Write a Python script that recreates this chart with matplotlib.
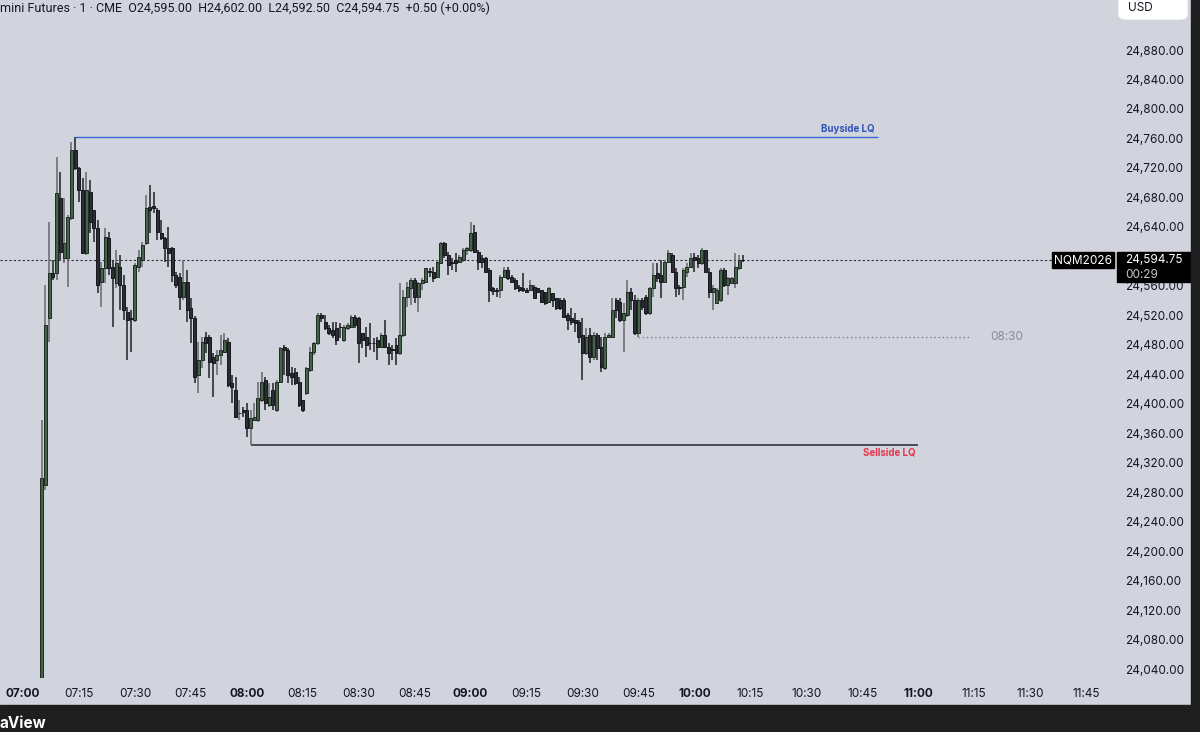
"""NQ 1-minute chart with buyside / sellside liquidity levels."""

import matplotlib
matplotlib.use('Agg')
import matplotlib.pyplot as plt
import numpy as np
from matplotlib.patches import Rectangle, FancyBboxPatch
from matplotlib.transforms import blended_transform_factory
from matplotlib.ticker import FuncFormatter

plt.rcParams['font.family'] = ['Inter', 'DejaVu Sans']

# ---- data ----
first_minute = 5  # first bar at 07:05, one bar per minute

opens = [
    24015, 24290, 24516, 24577, 24577, 24679, 24598, 24598, 24652, 24744,
    24720, 24690, 24605, 24687, 24663, 24638, 24565, 24584, 24625, 24586,
    24564, 24586, 24561, 24524, 24516, 24514, 24586, 24595, 24618, 24667,
    24668, 24663, 24632, 24625, 24611, 24611, 24575, 24572, 24545, 24565,
    24530, 24516, 24439, 24459, 24490, 24490, 24463, 24459, 24466, 24470,
    24484, 24428, 24419, 24387, 24391, 24391, 24367, 24378, 24378, 24405,
    24432, 24398, 24419, 24391, 24430, 24477, 24473, 24442, 24443, 24430,
    24405, 24415, 24446, 24470, 24482, 24520, 24511, 24503, 24500, 24503,
    24504, 24486, 24503, 24504, 24518, 24516, 24496, 24490, 24482, 24482,
    24486, 24477, 24493, 24477, 24473, 24480, 24469, 24493, 24545, 24557,
    24568, 24545, 24564, 24565, 24579, 24579, 24572, 24591, 24618, 24602,
    24592, 24595, 24592, 24595, 24609, 24609, 24633, 24606, 24598, 24598,
    24581, 24557, 24554, 24554, 24572, 24581, 24572, 24568, 24558, 24557,
    24554, 24554, 24558, 24557, 24554, 24551, 24538, 24550, 24543, 24541,
    24541, 24520, 24516, 24514, 24511, 24493, 24469, 24493, 24463, 24493,
    24477, 24448, 24490, 24490, 24541, 24538, 24514, 24520, 24551, 24541,
    24496, 24541, 24545, 24523, 24557, 24577, 24575, 24565, 24592, 24602,
    24579, 24558, 24558, 24579, 24586, 24599, 24598, 24591, 24609, 24579,
    24551, 24537, 24541, 24581, 24561, 24564, 24564, 24584, 24595,
]
highs = [
    24378, 24561, 24647, 24595, 24735, 24714, 24679, 24656, 24755, 24762,
    24721, 24706, 24714, 24704, 24663, 24649, 24592, 24638, 24633, 24595,
    24609, 24602, 24575, 24531, 24527, 24591, 24609, 24619, 24683, 24697,
    24687, 24666, 24649, 24626, 24640, 24613, 24579, 24577, 24595, 24581,
    24543, 24519, 24484, 24490, 24497, 24493, 24469, 24473, 24493, 24496,
    24489, 24439, 24436, 24405, 24395, 24401, 24391, 24401, 24430, 24443,
    24436, 24428, 24428, 24432, 24477, 24480, 24476, 24450, 24448, 24436,
    24405, 24450, 24477, 24484, 24523, 24523, 24520, 24507, 24511, 24511,
    24510, 24507, 24510, 24520, 24520, 24518, 24496, 24504, 24510, 24489,
    24490, 24496, 24514, 24482, 24480, 24489, 24564, 24554, 24565, 24571,
    24571, 24565, 24571, 24584, 24584, 24586, 24595, 24619, 24619, 24606,
    24598, 24605, 24602, 24611, 24613, 24647, 24642, 24609, 24602, 24599,
    24584, 24558, 24557, 24575, 24586, 24586, 24575, 24571, 24561, 24577,
    24557, 24568, 24561, 24557, 24554, 24551, 24558, 24550, 24543, 24543,
    24543, 24523, 24530, 24523, 24514, 24516, 24503, 24503, 24497, 24496,
    24490, 24496, 24496, 24543, 24543, 24543, 24537, 24568, 24557, 24547,
    24543, 24543, 24547, 24558, 24591, 24591, 24595, 24595, 24609, 24605,
    24584, 24561, 24584, 24591, 24605, 24605, 24602, 24611, 24609, 24584,
    24561, 24557, 24584, 24584, 24572, 24572, 24605, 24602, 24602,
]
lows = [
    24005, 24283, 24484, 24568, 24568, 24595, 24591, 24558, 24649, 24717,
    24674, 24605, 24602, 24632, 24619, 24550, 24531, 24564, 24575, 24504,
    24557, 24527, 24514, 24459, 24470, 24511, 24579, 24586, 24615, 24632,
    24659, 24622, 24622, 24592, 24586, 24565, 24557, 24527, 24541, 24511,
    24482, 24428, 24415, 24448, 24469, 24435, 24409, 24439, 24453, 24469,
    24423, 24401, 24381, 24378, 24382, 24355, 24344, 24378, 24375, 24402,
    24391, 24395, 24391, 24389, 24428, 24439, 24428, 24425, 24425, 24395,
    24389, 24412, 24443, 24466, 24480, 24511, 24500, 24493, 24489, 24480,
    24489, 24484, 24500, 24503, 24503, 24455, 24476, 24463, 24473, 24470,
    24459, 24476, 24476, 24453, 24459, 24453, 24466, 24490, 24531, 24534,
    24537, 24524, 24554, 24564, 24572, 24565, 24571, 24591, 24598, 24575,
    24581, 24579, 24591, 24592, 24602, 24606, 24605, 24581, 24584, 24579,
    24538, 24547, 24545, 24543, 24571, 24568, 24564, 24554, 24551, 24551,
    24550, 24554, 24543, 24550, 24537, 24534, 24537, 24531, 24527, 24527,
    24516, 24500, 24507, 24497, 24482, 24432, 24466, 24455, 24459, 24459,
    24443, 24446, 24489, 24489, 24516, 24511, 24470, 24518, 24527, 24493,
    24490, 24527, 24520, 24520, 24545, 24565, 24543, 24564, 24591, 24577,
    24545, 24547, 24541, 24572, 24584, 24579, 24584, 24588, 24577, 24543,
    24527, 24537, 24538, 24558, 24547, 24562, 24557, 24581, 24592.5,
]
closes = [
    24299, 24507, 24577, 24572, 24686, 24606, 24618, 24653, 24744, 24720,
    24690, 24605, 24690, 24647, 24638, 24561, 24584, 24626, 24584, 24571,
    24591, 24561, 24527, 24514, 24515, 24588, 24599, 24615, 24666, 24663,
    24666, 24633, 24625, 24611, 24605, 24575, 24561, 24545, 24565, 24527,
    24516, 24436, 24459, 24484, 24482, 24457, 24455, 24466, 24473, 24486,
    24425, 24423, 24382, 24388, 24389, 24367, 24381, 24382, 24408, 24430,
    24401, 24409, 24398, 24430, 24476, 24473, 24439, 24436, 24428, 24398,
    24391, 24449, 24470, 24482, 24520, 24516, 24503, 24496, 24493, 24486,
    24504, 24504, 24507, 24518, 24507, 24482, 24486, 24480, 24482, 24482,
    24477, 24493, 24477, 24469, 24473, 24469, 24493, 24545, 24558, 24568,
    24545, 24564, 24568, 24584, 24579, 24571, 24592, 24618, 24602, 24588,
    24591, 24591, 24599, 24609, 24611, 24632, 24606, 24592, 24592, 24579,
    24554, 24553, 24553, 24572, 24581, 24571, 24565, 24557, 24554, 24554,
    24551, 24561, 24543, 24551, 24538, 24537, 24557, 24541, 24530, 24530,
    24518, 24514, 24511, 24510, 24490, 24469, 24490, 24463, 24493, 24476,
    24450, 24490, 24493, 24527, 24527, 24514, 24523, 24551, 24541, 24496,
    24541, 24531, 24523, 24557, 24575, 24571, 24565, 24592, 24605, 24579,
    24557, 24557, 24581, 24586, 24598, 24595, 24591, 24609, 24579, 24551,
    24557, 24554, 24581, 24561, 24571, 24571, 24586, 24595, 24594.75,
]

buyside_level = 24762      # high of the 07:14 bar
sellside_level = 24344     # low of the 08:01 bar
level_0830 = 24490         # dotted level from the 09:50 bar
price_ticks = np.arange(24040, 24881, 40)
time_labels = ['07:00', '07:15', '07:30', '07:45', '08:00', '08:15', '08:30',
               '08:45', '09:00', '09:15', '09:30', '09:45', '10:00', '10:15',
               '10:30', '10:45', '11:00', '11:15', '11:30', '11:45']
header = ('mini Futures \u00b7 1 \u00b7 CME  O24,595.00  H24,602.00  '
          'L24,592.50  C24,594.75  +0.50 (+0.00%)')

# ---- style ----
bg = '#d1d4dc'
ink = '#131722'
up_body, up_edge, up_wick = '#45634a', '#1f2a22', '#64676d'
dn_body, dn_edge, dn_wick = '#2a2d33', '#15171b', '#1f2125'

o = np.array(opens, dtype=float)
h = np.array(highs, dtype=float)
l = np.array(lows, dtype=float)
c = np.array(closes, dtype=float)
x = first_minute + np.arange(len(c))
up = c > o

fig = plt.figure(figsize=(12, 7.32), dpi=100)
fig.patch.set_facecolor(bg)
ax = fig.add_axes([0, 54 / 732, 1113 / 1200, 678 / 732])
ax.set_facecolor(bg)
for s in ax.spines.values():
    s.set_visible(False)

ax.set_xlim(-23 / 3.73, 1090 / 3.73)
ax.set_ylim(24027.8, 24947.9)

# candles
ax.vlines(x, l, h, colors=np.where(up, up_wick, dn_wick), lw=1.1, zorder=2)
body_lo = np.minimum(o, c)
body_h = np.maximum(np.abs(c - o), 0.8)
ax.bar(x, body_h, bottom=body_lo, width=0.8,
       color=np.where(up, up_body, dn_body),
       edgecolor=np.where(up, up_edge, dn_edge), linewidth=0.7, zorder=3)

# levels
ax.axhline(c[-1], color='#2a2e39', lw=0.8, ls=(0, (2, 2)), zorder=1)
ax.hlines(buyside_level, x[9], 229.2, color='#3a66d6', lw=1.0, zorder=1)
ax.text(228.4, buyside_level + 4, 'Buyside LQ', color='#2f55b8', fontsize=7,
        fontweight='bold', ha='right', va='bottom')
ax.hlines(sellside_level, x[56], 240, color='#4a4d55', lw=1.4, zorder=1)
ax.text(239.2, sellside_level - 3, 'Sellside LQ', color='#e5374f', fontsize=7,
        fontweight='bold', ha='right', va='top')
ax.hlines(level_0830, x[160], 253.9, color='#7d8089', lw=1.0,
          ls=(0, (1, 2)), zorder=1)
ax.text(263.8, level_0830, '08:30', color='#8a8d96', fontsize=8.5,
        ha='center', va='center')

# axes ticks
ax.yaxis.tick_right()
ax.set_yticks(price_ticks)
ax.yaxis.set_major_formatter(FuncFormatter(lambda v, p: f'{v:,.2f}'))
ax.tick_params(axis='y', length=0, pad=9, labelsize=8.5, labelcolor=ink)
ax.set_xticks(np.arange(len(time_labels)) * 15)
ax.set_xticklabels(time_labels)
ax.tick_params(axis='x', length=0, pad=7, labelsize=8.5, labelcolor=ink)
for lab in ax.get_xticklabels():
    if lab.get_text().endswith(':00'):
        lab.set_fontweight('bold')

# last price / symbol tags on the price scale
tr = blended_transform_factory(fig.transFigure, ax.transData)
px = 1.357  # price units per pixel
ax.add_patch(Rectangle((1117 / 1200, c[-1] - 22 * px), 75 / 1200, 30 * px,
                       transform=tr, color='black', clip_on=False, zorder=5))
ax.text(1125 / 1200, c[-1], f'{c[-1]:,.2f}', transform=tr, color='white',
        fontsize=8.5, va='center', ha='left', zorder=6, clip_on=False)
ax.text(1125 / 1200, c[-1] - 15 * px, '00:29', transform=tr, color='#c3c6ce',
        fontsize=8.5, va='center', ha='left', zorder=6, clip_on=False)
ax.add_patch(Rectangle((1052 / 1200, c[-1] - 8 * px), 62 / 1200, 16 * px,
                       transform=tr, color='black', clip_on=False, zorder=5))
ax.text(1083 / 1200, c[-1], 'NQM2026', transform=tr, color='white',
        fontsize=8.5, va='center', ha='center', zorder=6, clip_on=False)

# frame pieces
fig.patches.append(Rectangle((0, 0), 1, 27 / 732, transform=fig.transFigure,
                             color='#1e1e1e', zorder=0))
fig.patches.append(Rectangle((1191 / 1200, 0), 9 / 1200, 1,
                             transform=fig.transFigure, color='#1e1e1e',
                             zorder=0))
fig.patches.append(FancyBboxPatch((1119 / 1200, 1 - 19 / 732), 68 / 1200,
                                  30 / 732, boxstyle='round,pad=0,rounding_size=0.006',
                                  transform=fig.transFigure, color='white',
                                  zorder=1))
fig.text(1128 / 1200, 1 - 8 / 732, 'USD', fontsize=8.5, color=ink,
         va='center', ha='left', zorder=3)
fig.text(0.0, 1 - 8 / 732, header, fontsize=9, color=ink,
         va='center', ha='left', family=['Roboto', 'DejaVu Sans'])
fig.text(0.0, 1 / 732, 'aView', fontsize=11, color='white',
         fontweight='bold', va='bottom', ha='left')

fig.savefig('out.png', dpi=100, facecolor=bg)
